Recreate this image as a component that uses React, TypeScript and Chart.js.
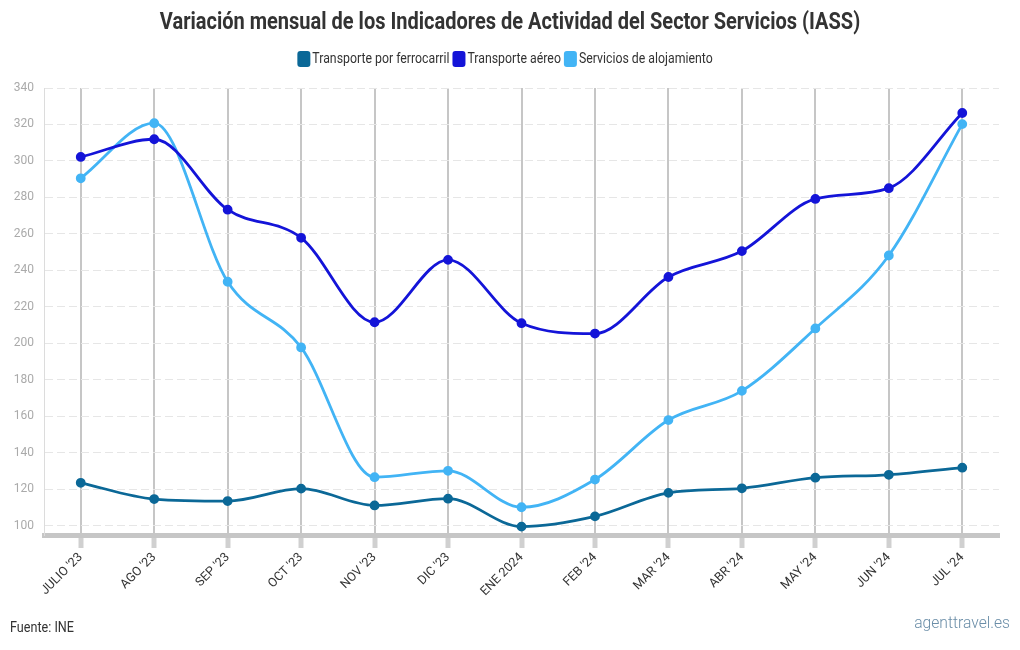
import React, { useEffect, useRef } from "react";
import { Chart, registerables } from "chart.js";

Chart.register(...registerables);

const categories = ["JULIO '23", "AGO '23", "SEP '23", "OCT '23", "NOV '23", "DIC '23", "ENE 2024", "FEB '24", "MAR '24", "ABR '24", "MAY '24", "JUN '24", "JUL '24"];
const ferrocarril = [123.6, 114.7, 113.6, 120.4, 111.2, 114.9, 99.6, 105.2, 118.1, 120.6, 126.4, 128.0, 131.9];
const aereo = [302.2, 311.9, 273.3, 257.9, 211.6, 245.8, 211.1, 205.4, 236.4, 250.6, 279.2, 285.1, 326.3];
const alojamiento = [290.5, 320.7, 233.8, 197.8, 126.7, 130.2, 110.2, 125.4, 158.0, 174.0, 208.2, 248.2, 320.2];
const yTicks = [100, 120, 140, 160, 180, 200, 220, 240, 260, 280, 300, 320, 340];
const seriesNames = ["Transporte por ferrocarril", "Transporte aéreo", "Servicios de alojamiento"];
const seriesColors = ["#0b6897", "#1414d8", "#42b4f5"];
const titleText = "Variación mensual de los Indicadores de Actividad del Sector Servicios (IASS)";
const sourceText = "Fuente: INE";
const logoText = "agenttravel.es";

const FONT = "Roboto, 'DejaVu Sans Condensed', sans-serif";
const SX = 0.84; // horizontal squeeze to mimic a condensed face

function drawSqueezed(ctx: CanvasRenderingContext2D, text: string, x: number, y: number, sx: number) {
  ctx.save();
  ctx.translate(x, y);
  ctx.scale(sx, 1);
  ctx.fillText(text, 0, 0);
  ctx.restore();
}

const headerPlugin = {
  id: "header",
  afterDraw(c: any) {
    const ctx: CanvasRenderingContext2D = c.ctx;
    ctx.save();
    ctx.textBaseline = "middle";
    ctx.textAlign = "left";
    // title
    ctx.fillStyle = "#333333";
    ctx.font = `bold 24px ${FONT}`;
    const tsx = 0.834;
    const tw = ctx.measureText(titleText).width * tsx;
    drawSqueezed(ctx, titleText, 510 - tw / 2, 23, tsx);
    // legend
    const lsx = 0.82;
    ctx.font = `15px ${FONT}`;
    const box = 13, gap = 2, itemGap = 3;
    const widths = seriesNames.map((n) => ctx.measureText(n).width * lsx);
    const total = widths.reduce((a, w) => a + box + gap + w, 0) + itemGap * (seriesNames.length - 1);
    let x = 505 - total / 2;
    const ly = 59;
    seriesNames.forEach((n, i) => {
      ctx.fillStyle = seriesColors[i];
      ctx.beginPath();
      (ctx as any).roundRect(x, ly - 8, box, 16, 3);
      ctx.fill();
      x += box + gap;
      ctx.fillStyle = "#333333";
      drawSqueezed(ctx, n, x, ly, lsx);
      x += widths[i] + itemGap;
    });
    // footer
    ctx.font = `15px ${FONT}`;
    ctx.fillStyle = "#333333";
    drawSqueezed(ctx, sourceText, 10, 628, SX);
    ctx.font = `300 17px ${FONT}`;
    ctx.fillStyle = "#6b8ea8";
    const lw = ctx.measureText(logoText).width * 0.92;
    drawSqueezed(ctx, logoText, 1010 - lw, 624, 0.92);
    ctx.restore();
  },
};

export default function App() {
  const ref = useRef<HTMLCanvasElement | null>(null);
  useEffect(() => {
    document.body.style.margin = "0";
    const series = [ferrocarril, aereo, alojamiento];
    const chart = new Chart(ref.current!, {
      type: "line",
      data: {
        labels: categories,
        datasets: series.map((data, i) => ({
          label: seriesNames[i],
          data,
          borderColor: seriesColors[i],
          backgroundColor: seriesColors[i],
          pointBackgroundColor: seriesColors[i],
          pointBorderColor: seriesColors[i],
          borderWidth: 2.8,
          pointRadius: 3.5,
          pointHoverRadius: 3.5,
          cubicInterpolationMode: "monotone",
          fill: false,
        })),
      },
      options: {
        responsive: false,
        animation: false,
        layout: { padding: { left: 0, right: 21, top: 88, bottom: 0 } },
        plugins: {
          title: { display: false },
          legend: { display: false },
          tooltip: { enabled: false },
        },
        scales: {
          x: {
            offset: true,
            afterFit: (s: any) => {
              s.height = 115;
            },
            grid: {
              color: "#c6c6c6",
              lineWidth: 2,
              drawTicks: true,
              tickLength: 13,
              tickColor: "#d0d0d0",
              tickWidth: 5,
            },
            border: { display: true, color: "#c6c6c6", width: 5 },
            ticks: {
              color: "#333333",
              font: { family: FONT, size: 12.5 },
              maxRotation: 45,
              minRotation: 45,
              padding: 2,
              autoSkip: false,
            },
          },
          y: {
            min: 95,
            max: 340,
            afterFit: (s: any) => {
              s.width = 44;
            },
            afterBuildTicks: (scale: any) => {
              scale.ticks = yTicks.map((v) => ({ value: v }));
            },
            grid: {
              color: "#e6e6e6",
              lineWidth: 1,
              drawTicks: false,
            },
            border: { display: true, color: "#dcdcdc", width: 1, dash: [8, 4] },
            ticks: {
              color: "#aaaaaa",
              font: { family: FONT, size: 12 },
              padding: 10,
            },
          },
        },
      },
      plugins: [headerPlugin],
    } as any);
    return () => chart.destroy();
  }, []);
  return (
    <div style={{ position: "relative", width: 1020, height: 650, background: "#fff" }}>
      <canvas ref={ref} width={1020} height={650} />
    </div>
  );
}
